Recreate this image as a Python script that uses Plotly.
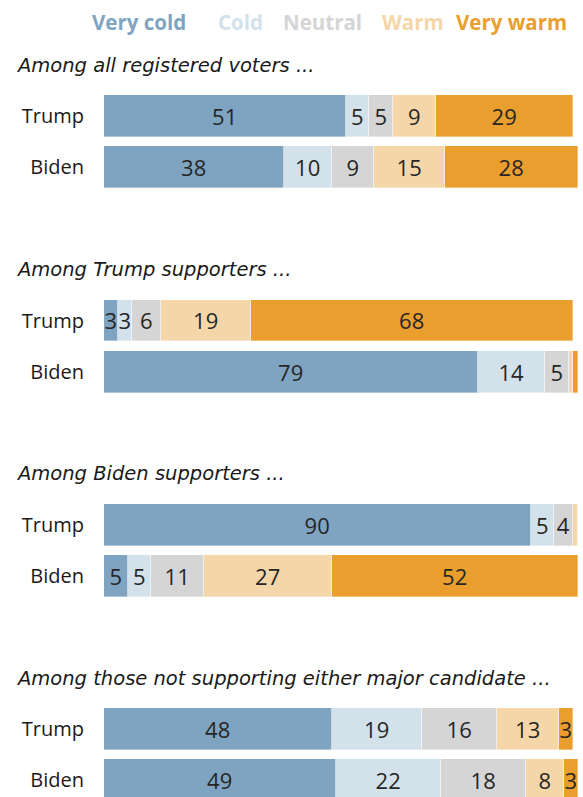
import plotly.graph_objects as go

# Feeling-thermometer ratings of each candidate, by group
groups = [
    "Among all registered voters ...",
    "Among Trump supporters ...",
    "Among Biden supporters ...",
    "Among those not supporting either major candidate ...",
]
candidates = ["Trump", "Biden"]
categories = ["Very cold", "Cold", "Neutral", "Warm", "Very warm"]
colors = ["#7FA4C1", "#D3E1EA", "#D5D5D5", "#F5D6A8", "#EA9E2D"]

very_cold = [51, 38, 3, 79, 90, 5, 48, 49]
cold = [5, 10, 3, 14, 5, 5, 19, 22]
neutral = [5, 9, 6, 5, 4, 11, 16, 18]
warm = [9, 15, 19, 1, 1, 27, 13, 8]
very_warm = [29, 28, 68, 1, 0, 52, 3, 3]
# values too small to label inside their segment
hidden = {(3, 3), (3, 4), (4, 3), (4, 4)}

series = [very_cold, cold, neutral, warm, very_warm]

FONT = "Open Sans"
TITLE_FONT = "DejaVu Sans"
W, H = 583, 797
L, R = 104, 5
ROW_PX = 51.1   # pixel height of one row unit
TOP_PX = 65     # pixel position of the first group heading

# row positions: heading at 4g, Trump at 4g+1, Biden at 4g+2
row_y = []
for g in range(len(groups)):
    for c in range(len(candidates)):
        row_y.append(4 * g + 1 + c)
row_labels = [candidates[i % 2] for i in range(len(row_y))]

fig = go.Figure()
for k, (name, vals) in enumerate(zip(categories, series)):
    texts = ["" if (r, k) in hidden or v == 0 else str(v) for r, v in enumerate(vals)]
    fig.add_trace(go.Bar(
        x=vals,
        y=row_y,
        orientation="h",
        name=name,
        marker=dict(color=colors[k], line=dict(color="rgba(255,255,255,0.6)", width=0.6)),
        width=0.82,
        text=texts,
        textposition="inside",
        insidetextanchor="middle",
        textangle=0,
        constraintext="none",
        textfont=dict(family=FONT, size=22, color="#262626"),
        cliponaxis=False,
        hoverinfo="skip",
        showlegend=False,
    ))

y_top = -TOP_PX / ROW_PX
y_bot = (H - TOP_PX) / ROW_PX

annotations = []
# group headings
for g, title in enumerate(groups):
    annotations.append(dict(
        text=f"<i>{title}</i>", x=(14 - L) / (W - L - R), xref="paper",
        y=4 * g, yref="y", xanchor="left", yanchor="middle", showarrow=False,
        font=dict(family=TITLE_FONT, size=19.5, color="#1a1a1a"),
    ))

# colour key across the top
key_x = [90, 216, 281, 380, 454]
for k, name in enumerate(categories):
    annotations.append(dict(
        text=f"<b>{name}</b>", x=(key_x[k] - L) / (W - L - R), xref="paper",
        y=(22 - TOP_PX) / ROW_PX, yref="y", xanchor="left", yanchor="middle",
        showarrow=False, font=dict(family=FONT, size=20.5, color=colors[k]),
    ))

fig.update_layout(
    width=W, height=H,
    margin=dict(l=L, r=R, t=0, b=0),
    barmode="stack",
    bargap=0,
    plot_bgcolor="white",
    paper_bgcolor="white",
    uniformtext=dict(minsize=22, mode="show"),
    annotations=annotations,
    xaxis=dict(range=[0, 100], visible=False, fixedrange=True),
    yaxis=dict(
        range=[y_bot, y_top], tickmode="array", tickvals=row_y, ticktext=row_labels,
        showgrid=False, zeroline=False, showline=False,
        ticks="outside", ticklen=15, tickcolor="rgba(0,0,0,0)",
        tickfont=dict(family=FONT, size=20, color="#1a1a1a"),
        fixedrange=True,
    ),
)

fig.write_html("out.html")
